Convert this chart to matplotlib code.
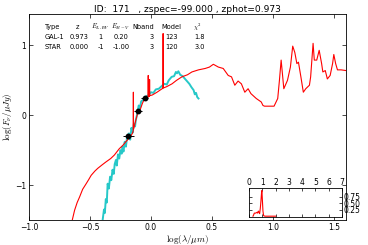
import matplotlib
matplotlib.use("Agg")
import matplotlib.pyplot as plt

plt.rcParams['mathtext.fontset'] = 'cm'
plt.rcParams['font.family'] = ['DejaVu Sans']

# Galaxy template (red) : log wavelength, log flux
red_logwl = [-0.645, -0.626, -0.605, -0.585, -0.56, -0.531, -0.51, -0.49, -0.46, -0.436,
             -0.40, -0.37, -0.33, -0.30, -0.26, -0.23, -0.206, -0.17, -0.152, -0.145,
             -0.144, -0.143, -0.135, -0.124, -0.11, -0.095, -0.084, -0.07, -0.057, -0.04,
             -0.023, -0.022, -0.021, -0.012, -0.011, -0.010, 0.011, 0.05, 0.092, 0.099,
             0.100, 0.101, 0.13, 0.173, 0.21, 0.254, 0.30, 0.336, 0.39, 0.445,
             0.48, 0.512, 0.553, 0.593, 0.634, 0.661, 0.688, 0.715, 0.742, 0.77,
             0.797, 0.82, 0.864, 0.905, 0.919, 0.932, 1.01, 1.04, 1.054, 1.068,
             1.09, 1.12, 1.144, 1.163, 1.18, 1.197, 1.21, 1.23, 1.25, 1.27,
             1.30, 1.31, 1.33, 1.34, 1.36, 1.38, 1.40, 1.41, 1.43, 1.447,
             1.47, 1.49, 1.50, 1.515, 1.53, 1.56, 1.6]
red_logflux = [-1.5, -1.36, -1.25, -1.17, -1.06, -0.98, -0.92, -0.86, -0.80, -0.76,
               -0.71, -0.67, -0.62, -0.57, -0.48, -0.43, -0.38, -0.31, -0.26, -0.22,
               0.33, -0.20, -0.15, -0.07, 0.02, 0.06, 0.10, 0.17, 0.22, 0.23,
               0.26, 0.57, 0.27, 0.27, 0.51, 0.28, 0.29, 0.33, 0.38, 0.39,
               1.17, 0.39, 0.41, 0.45, 0.50, 0.55, 0.58, 0.62, 0.65, 0.67,
               0.69, 0.73, 0.69, 0.67, 0.57, 0.55, 0.43, 0.49, 0.45, 0.33,
               0.38, 0.31, 0.24, 0.19, 0.14, 0.13, 0.13, 0.24, 0.50, 0.79,
               0.38, 0.50, 0.69, 0.99, 0.90, 0.74, 0.76, 0.55, 0.33, 0.38,
               0.43, 0.55, 1.03, 0.79, 0.79, 0.93, 0.74, 0.62, 0.64, 0.52,
               0.57, 0.74, 0.87, 0.74, 0.65, 0.65, 0.64]

# Star template (cyan)
cyan_logwl = [-0.396, -0.385, -0.378, -0.37, -0.362, -0.355, -0.345, -0.335, -0.325, -0.315,
              -0.305, -0.297, -0.287, -0.28, -0.27, -0.26, -0.25, -0.24, -0.233, -0.225,
              -0.215, -0.205, -0.195, -0.18, -0.17, -0.16, -0.15, -0.14, -0.13, -0.124,
              -0.115, -0.10, -0.09, -0.08, -0.06, -0.04, -0.016, 0.0, 0.02, 0.04,
              0.065, 0.09, 0.11, 0.13, 0.146, 0.17, 0.19, 0.205, 0.214, 0.225,
              0.24, 0.26, 0.28, 0.30, 0.315, 0.333, 0.35, 0.36, 0.37, 0.38, 0.39]
cyan_logflux = [-1.5, -1.35, -1.40, -1.20, -1.25, -0.98, -1.05, -0.88, -0.93, -0.78,
                -0.84, -0.70, -0.64, -0.72, -0.56, -0.62, -0.50, -0.55, -0.45, -0.52,
                -0.38, -0.45, -0.30, -0.26, -0.35, -0.18, -0.25, -0.12, -0.16, -0.07,
                0.0, 0.14, 0.10, 0.20, 0.22, 0.27, 0.29, 0.33, 0.32, 0.37,
                0.38, 0.42, 0.45, 0.44, 0.50, 0.55, 0.56, 0.62, 0.60, 0.63,
                0.58, 0.56, 0.52, 0.48, 0.45, 0.40, 0.36, 0.30, 0.32, 0.26, 0.24]

# Observed photometry
obs_logwl = [-0.187, -0.106, -0.051]
obs_logflux = [-0.30, 0.057, 0.24]
obs_xerr = [0.045, 0.035, 0.03]
obs_yerr = [0.02, 0.02, 0.02]

# Redshift PDF
pdf_z = [0.3, 0.35, 0.4, 0.5, 0.6, 0.65, 0.7, 0.75, 0.8, 0.85, 0.9, 0.95, 0.97, 1.0, 1.05, 1.1, 1.2, 1.5, 2.0]
pdf_p = [0.0, 0.05, 0.12, 0.12, 0.15, 0.12, 0.2, 0.15, 0.1, 0.3, 0.6, 0.95, 1.0, 0.7, 0.2, 0.02, 0.0, 0.0, 0.0]

title = "ID:  171   , zspec=-99.000 , zphot=0.973"
table_header = ["Type", "z", "$E_{LAW}$", "$E_{B-V}$", "Nband", "Model", "$\\chi^2$"]
table_rows = [["GAL-1", "0.973", "1", "0.20", "3", "123", "1.8"],
              ["STAR", "0.000", "-1", "-1.00", "3", "120", "3.0"]]

W, H = 368, 245
fig = plt.figure(figsize=(W / 100, H / 100), dpi=100)
ax = fig.add_axes([29 / W, 1 - 220 / H, 317 / W, 206 / H])
ax.plot(red_logwl, red_logflux, color='red', lw=0.8, zorder=2)
ax.plot(cyan_logwl, cyan_logflux, color='c', lw=1.4, alpha=0.85, zorder=1)
ax.errorbar(obs_logwl, obs_logflux, xerr=obs_xerr, yerr=obs_yerr, fmt='o', color='black',
            ms=3.2, lw=0.7, capsize=0, zorder=3)
ax.set_xlim(-1.0, 1.6)
ax.set_ylim(-1.5, 1.45)
ax.set_xticks([-1.0, -0.5, 0.0, 0.5, 1.0, 1.5])
ax.set_yticks([-1, 0, 1])
ax.tick_params(direction='in', top=True, right=True, labelsize=5.5, length=3, width=0.5, pad=2)
for s in ax.spines.values():
    s.set_linewidth(0.6)
ax.set_xlabel(r"$\log(\lambda/\mu m)$", fontsize=6.5, labelpad=1)
ax.set_ylabel(r"$\log(F_{\nu}/\mu Jy)$", fontsize=6.5, labelpad=1)
fig.text(187.5 / W, 1 - 10 / H, title, ha='center', va='center', fontsize=6.6)

hdr_x = [45, 77, 100, 121, 143.5, 171.5, 197.5]
hdr_ha = ['left', 'center', 'center', 'center', 'center', 'center', 'center']
for t, x, ha in zip(table_header, hdr_x, hdr_ha):
    fig.text(x / W, 1 - 27 / H, t, ha=ha, va='center', fontsize=4.8)
row_x = [45, 79, 100.5, 121.5, 152, 172, 200]
for r, y in zip(table_rows, [37, 47]):
    for t, x, ha in zip(r, row_x, hdr_ha):
        fig.text(x / W, 1 - y / H, t, ha=ha, va='center', fontsize=4.8)

ins = fig.add_axes([249 / W, 1 - 216.7 / H, 93 / W, 28.7 / H])
ins.plot(pdf_z, pdf_p, color='red', lw=0.8)
ins.set_xlim(0, 7)
ins.set_ylim(-0.02, 1.1)
ins.set_xticks(range(0, 8))
ins.set_yticks([0.25, 0.5, 0.75])
ins.set_yticklabels(["0.25", "0.50", "0.75"])
ins.tick_params(direction='in', top=True, right=True, bottom=True, left=True,
                labeltop=True, labelbottom=False, labelright=True, labelleft=False,
                labelsize=5.5, length=2, width=0.5, pad=1)
for s in ins.spines.values():
    s.set_linewidth(0.6)

fig.savefig("out.png", dpi=100)
